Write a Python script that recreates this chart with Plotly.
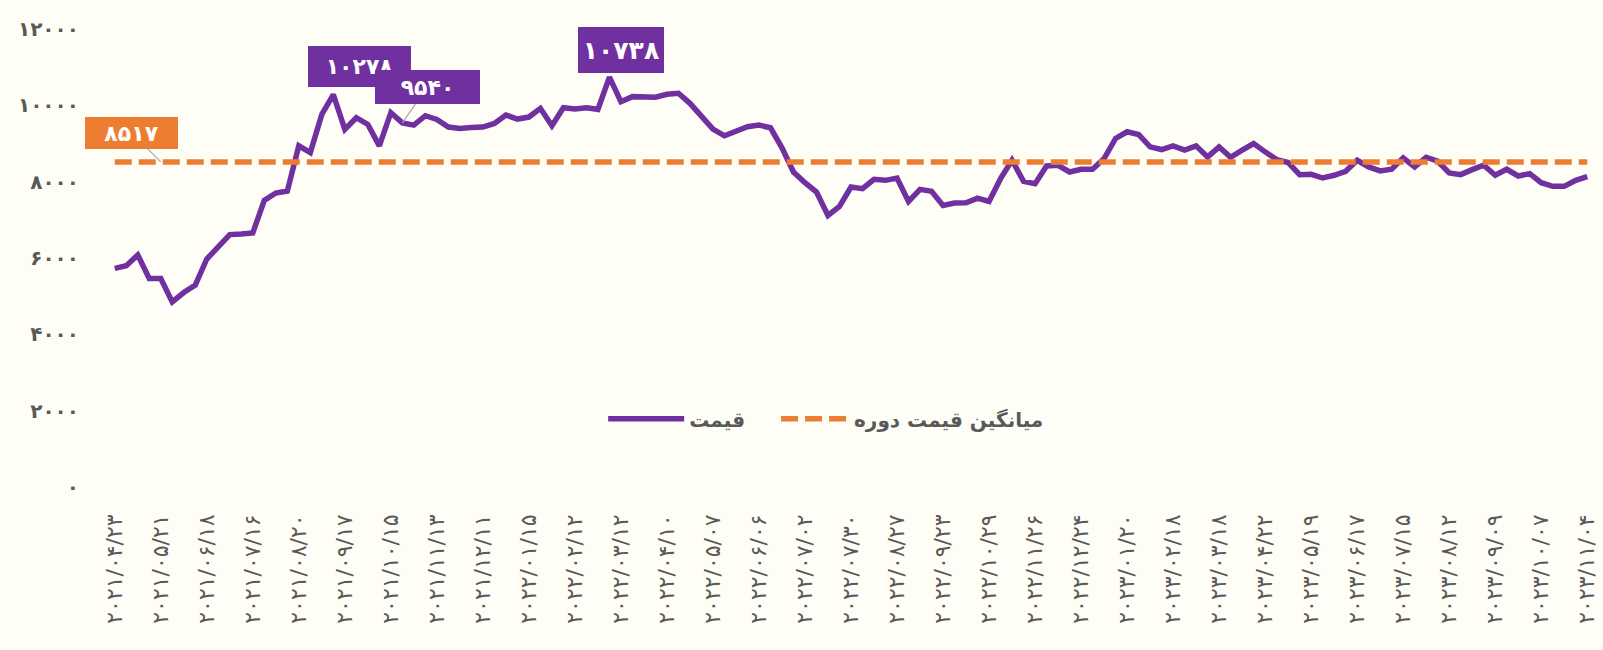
import plotly.graph_objects as go

FA = str.maketrans("0123456789", "۰۱۲۳۴۵۶۷۸۹")

tick_dates = ["2021/04/23", "2021/05/21", "2021/06/18", "2021/07/16", "2021/08/20", "2021/09/17",
              "2021/10/15", "2021/11/13", "2021/12/11", "2022/01/15", "2022/02/12", "2022/03/12",
              "2022/04/10", "2022/05/07", "2022/06/06", "2022/07/02", "2022/07/30", "2022/08/27",
              "2022/09/23", "2022/10/29", "2022/11/26", "2022/12/24", "2023/01/20", "2023/02/18",
              "2023/03/18", "2023/04/22", "2023/05/19", "2023/06/17", "2023/07/15", "2023/08/12",
              "2023/09/09", "2023/10/07", "2023/11/04"]

price = [5729, 5798, 6079, 5465, 5465, 4851, 5096, 5289, 5974, 6307,
         6614, 6631, 6658, 7509, 7702, 7754, 8939, 8763, 9763, 10278,
         9368, 9675, 9500, 8939, 9807, 9540, 9482, 9728, 9632, 9430,
         9395, 9421, 9430, 9526, 9746, 9640, 9693, 9921, 9465, 9939,
         9903, 9939, 9895, 10738, 10096, 10228, 10211, 10211, 10289, 10316,
         10053, 9702, 9377, 9202, 9307, 9439, 9482, 9412, 8886, 8254,
         7974, 7728, 7114, 7351, 7860, 7816, 8061, 8035, 8096, 7482,
         7798, 7746, 7377, 7439, 7447, 7570, 7482, 8079, 8561, 8009,
         7947, 8412, 8430, 8254, 8325, 8325, 8605, 9132, 9307, 9237,
         8912, 8842, 8939, 8825, 8939, 8649, 8912, 8640, 8825, 9000,
         8781, 8579, 8500, 8184, 8193, 8096, 8167, 8272, 8561, 8386,
         8281, 8325, 8623, 8386, 8640, 8535, 8228, 8184, 8316, 8430,
         8167, 8325, 8149, 8211, 7974, 7877, 7877, 8035, 8132]

period_mean = 8517
y_ticks = [0, 2000, 4000, 6000, 8000, 10000, 12000]
tick_step = 4

series_price_name = "قیمت"
series_mean_name = "میانگین قیمت دوره"

x = list(range(len(price)))
mean_line = [period_mean] * len(price)

PURPLE = "#7030A0"
ORANGE = "#ED7D31"
GREY = "#595959"
BG = "#FEFEF6"
FONT = "DejaVu Sans"

fig = go.Figure()
fig.add_trace(go.Scatter(x=x, y=price, mode="lines", name=series_price_name,
                         line=dict(color=PURPLE, width=5.5), hoverinfo="y", legend="legend"))
fig.add_trace(go.Scatter(x=x, y=mean_line, mode="lines", name=series_mean_name,
                         line=dict(color=ORANGE, width=5.5, dash="17px,7px"), hoverinfo="y",
                         legend="legend2"))

def box(xi, yv, text, w, h, color, ax=None, ay=None, xs=0, ys=0, size=22):
    d = dict(x=xi, y=yv, xref="x", yref="y", text="<b>" + text + "</b>",
             font=dict(family=FONT, size=size, color="white"),
             bgcolor=color, width=w, height=h, borderpad=0, borderwidth=0,
             align="center", valign="middle")
    if ax is not None:
        d.update(showarrow=True, ax=ax, ay=ay, arrowhead=0, arrowwidth=1.2,
                 arrowcolor="#A6A6A6", standoff=0)
    else:
        d.update(showarrow=False, xshift=xs, yshift=ys)
    return d

i_max1 = 19
i_max2 = 43
i_lab = 25
i_mean = 4
annotations = [
    box(i_mean, period_mean, str(period_mean).translate(FA), 93, 32, ORANGE, ax=-29, ay=-29),
    box(i_max1, price[i_max1], str(price[i_max1]).translate(FA), 103, 41, PURPLE, xs=26, ys=28),
    box(i_lab, price[i_lab], str(price[i_lab]).translate(FA), 105, 34, PURPLE, ax=25, ay=-36),
    box(i_max2, price[i_max2], str(price[i_max2]).translate(FA), 86, 46, PURPLE, xs=12, ys=27, size=25),
]

legend_common = dict(orientation="h", y=0.149, yanchor="middle", xanchor="left",
                     bgcolor="rgba(0,0,0,0)",
                     font=dict(family=FONT, size=20, color=GREY, weight="bold"))

fig.update_layout(
    width=1603, height=650,
    margin=dict(l=109, r=4, t=29, b=163),
    paper_bgcolor=BG, plot_bgcolor=BG,
    font=dict(family=FONT, color=GREY),
    showlegend=True,
    legend=dict(legend_common, x=0.333, itemwidth=76),
    legend2=dict(legend_common, x=0.4495, itemwidth=68),
    annotations=annotations,
    xaxis=dict(range=[-0.5, len(price) - 0.5], showgrid=False, zeroline=False, showline=False,
               tickmode="array", tickvals=x[::tick_step],
               ticktext=[d.translate(FA) for d in tick_dates],
               tickangle=-90, ticks="", ticklabelstandoff=22, ticklabeloverflow="allow",
               tickfont=dict(family=FONT, size=22, color=GREY)),
    yaxis=dict(range=[0, 12000], tickmode="array", tickvals=y_ticks,
               ticktext=[str(v).translate(FA) for v in y_ticks],
               showgrid=True, gridcolor="#FFFFFF", gridwidth=1, zeroline=False, showline=False,
               ticks="", ticklabelstandoff=29,
               tickfont=dict(family=FONT, size=20, color=GREY, weight="bold")),
)

post = "document.body.style.margin='0';document.body.style.background='" + BG + "';"
fig.write_html("out.html", post_script=post, config={"displayModeBar": False})
